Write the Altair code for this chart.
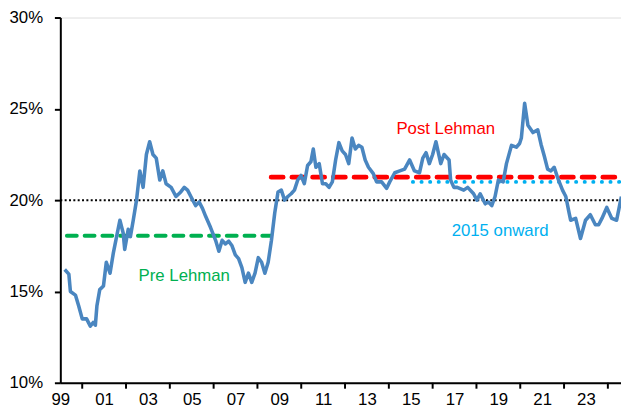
import altair as alt
import pandas as pd

# Blue series (decimal year, %)
years = [1999.2, 1999.39, 1999.46, 1999.69, 1999.84, 2000.0, 2000.2, 2000.37, 2000.5, 2000.6,
         2000.67, 2000.8, 2000.97, 2001.1, 2001.27, 2001.42, 2001.57, 2001.72, 2001.87, 2001.94,
         2002.1, 2002.2, 2002.33, 2002.48, 2002.63, 2002.78, 2002.93, 2003.08, 2003.23, 2003.38,
         2003.54, 2003.68, 2003.83, 2004.06, 2004.28, 2004.5, 2004.66, 2004.81, 2004.96, 2005.18,
         2005.34, 2005.49, 2005.64, 2005.86, 2006.09, 2006.24, 2006.39, 2006.54, 2006.69, 2006.84,
         2006.99, 2007.14, 2007.29, 2007.44, 2007.59, 2007.74, 2007.89, 2008.04, 2008.19, 2008.34,
         2008.49, 2008.64, 2008.79, 2008.94, 2009.09, 2009.24, 2009.39, 2009.54, 2009.69, 2009.84,
         2009.99, 2010.14, 2010.29, 2010.44, 2010.55, 2010.67, 2010.82, 2010.97, 2011.12, 2011.27,
         2011.42, 2011.57, 2011.72, 2011.87, 2012.02, 2012.17, 2012.32, 2012.47, 2012.62, 2012.77,
         2012.92, 2013.07, 2013.29, 2013.44, 2013.67, 2013.9, 2014.04, 2014.27, 2014.5, 2014.72,
         2014.95, 2015.17, 2015.4, 2015.55, 2015.7, 2015.85, 2016.0, 2016.15, 2016.37, 2016.52,
         2016.75, 2016.82, 2016.97, 2017.12, 2017.42, 2017.6, 2017.87, 2018.02, 2018.17, 2018.4,
         2018.55, 2018.7, 2018.85, 2019.0, 2019.22, 2019.37, 2019.6, 2019.82, 2019.97, 2020.05,
         2020.2, 2020.35, 2020.58, 2020.8, 2020.95, 2021.1, 2021.25, 2021.4, 2021.55, 2021.7,
         2021.93, 2022.08, 2022.23, 2022.3, 2022.53, 2022.75, 2022.98, 2023.2, 2023.43, 2023.58,
         2023.73, 2023.95, 2024.18, 2024.4, 2024.55, 2024.62]
values = [16.2, 15.95, 15.0, 14.8, 14.2, 13.5, 13.5, 13.1, 13.3, 13.15,
          14.2, 15.1, 15.3, 16.6, 16.0, 17.1, 18.0, 18.9, 18.2, 17.3,
          18.4, 18.0, 18.9, 20.0, 21.6, 20.7, 22.5, 23.2, 22.5, 22.3,
          21.1, 21.6, 20.9, 20.7, 20.2, 20.45, 20.7, 20.55, 20.2, 19.7,
          19.9, 19.55, 19.1, 18.5, 17.8, 17.2, 17.8, 17.6, 17.75, 17.5,
          17.0, 16.8, 16.3, 15.5, 16.0, 15.5, 16.0, 16.85, 16.6, 16.0,
          16.6, 17.8, 19.3, 20.45, 20.55, 20.0, 20.2, 20.35, 20.55, 21.1,
          21.35, 20.9, 21.9, 22.1, 22.8, 21.8, 22.0, 20.9, 20.9, 20.7,
          21.0, 22.2, 23.15, 22.7, 22.5, 22.0, 23.4, 22.8, 23.0, 22.9,
          22.2, 21.8, 21.45, 21.0, 21.0, 20.65, 21.0, 21.5, 21.6, 21.7,
          22.2, 21.6, 21.5, 22.3, 22.6, 22.0, 22.5, 23.2, 22.0, 22.5,
          22.2, 21.1, 20.7, 20.7, 20.55, 20.7, 20.35, 20.0, 20.35, 19.8,
          19.9, 19.7, 20.2, 21.1, 21.0, 22.0, 23.0, 22.9, 23.1, 23.4,
          25.3, 24.1, 23.7, 23.85, 23.05, 22.4, 21.7, 21.6, 21.8, 21.25,
          20.55, 20.2, 19.3, 18.9, 19.0, 17.9, 18.9, 19.2, 18.65, 18.65,
          19.0, 19.6, 19.0, 18.9, 19.8, 20.2]

# Reference lines
pre_start, pre_end, pre_level = 1999.3, 2008.63, 18.05
post_start, post_end, post_level = 2008.63, 2024.6, 21.26
onward_start, onward_end, onward_level = 2015.1, 2024.6, 21.0
neutral_start, neutral_end, neutral_level = 1999.0, 2024.6, 20.0

# Annotation labels
label_texts = ["Post Lehman", "Pre Lehman", "2015 onward"]
label_x = [2016.6, 2004.66, 2019.08]
label_y = [23.9, 15.85, 18.3]
label_colors = ["#ff0000", "#00b050", "#00b0f0"]

# Axis ticks
x_label_years = list(range(1999, 2024, 2))
x_tick_years = list(range(2000, 2025, 2))
y_ticks = [10, 15, 20, 25, 30]

FONT = "Liberation Sans, Arial, sans-serif"
FS = 17
W, H = 568, 370

xs = alt.Scale(domain=[1999, 2024.6], nice=False, zero=False)
ys = alt.Scale(domain=[10, 30], nice=False, zero=False)

series = pd.DataFrame({"year": years, "value": values})

base_line = alt.Chart(series).mark_line(color="#4a86c0", strokeWidth=3.6, strokeJoin="round").encode(
    x=alt.X("year:Q", scale=xs,
            axis=alt.Axis(values=x_label_years, labelExpr="substring(format(datum.value,'d'),2,4)",
                          ticks=False, grid=False, domainColor="black", domainWidth=2,
                          labelFont=FONT, labelFontSize=FS, labelColor="black", labelPadding=9,
                          labelFlush=False, title=None)),
    y=alt.Y("value:Q", scale=ys,
            axis=alt.Axis(values=y_ticks, labelExpr="datum.value + '%'", grid=False,
                          domainColor="black", domainWidth=2, tickColor="black", tickWidth=2,
                          tickSize=6, labelFont=FONT, labelFontSize=FS, labelColor="black",
                          labelPadding=12, labelFlush=False, title=None)),
)

def hline(x0, x1, lvl, color, width, dash, cap):
    df = pd.DataFrame({"x0": [x0], "x1": [x1], "y": [lvl]})
    return alt.Chart(df).mark_rule(color=color, strokeWidth=width, strokeDash=dash, strokeCap=cap).encode(
        x=alt.X("x0:Q", scale=xs), x2="x1:Q", y=alt.Y("y:Q", scale=ys))

neutral = hline(neutral_start, neutral_end, neutral_level, "black", 2, [2, 2.4], "butt")
pre = hline(pre_start, pre_end, pre_level, "#00b050", 4, [10, 8], "round")
post = hline(post_start, post_end, post_level, "#ff0000", 5, [12, 9], "round")
onward = hline(onward_start, onward_end, onward_level, "#00b0f0", 4, [0.1, 8.6], "round")

ticks_df = pd.DataFrame({"year": x_tick_years})
xticks = alt.Chart(ticks_df).mark_rule(color="black", strokeWidth=2).encode(
    x=alt.X("year:Q", scale=xs), y=alt.datum(10, scale=ys), y2=alt.value(H + 6))

labels_df = pd.DataFrame({"text": label_texts, "x": label_x, "y": label_y, "color": label_colors})
labels = alt.Chart(labels_df).mark_text(font=FONT, fontSize=FS, align="center", baseline="middle").encode(
    x=alt.X("x:Q", scale=xs), y=alt.Y("y:Q", scale=ys), text="text:N",
    color=alt.Color("color:N", scale=None))

chart = alt.layer(neutral, pre, onward, post, base_line, xticks, labels).properties(
    width=W, height=H,
    autosize=alt.AutoSizeParams(type="none"),
    padding={"left": 53, "top": 7, "right": 0, "bottom": 30},
).configure_view(stroke=None).configure(background="white")

chart.save("out.html", embed_options={"renderer": "svg", "actions": False})
